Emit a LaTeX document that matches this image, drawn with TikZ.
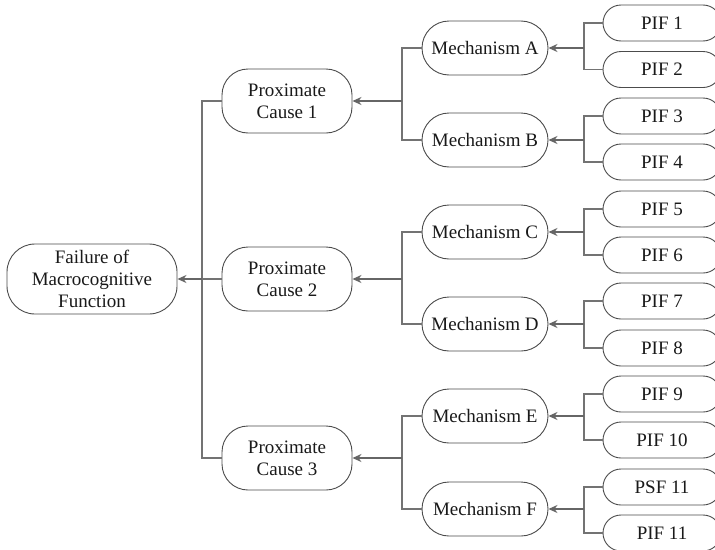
\documentclass[tikz,border=0pt]{standalone}
\usepackage{fontspec}
\setmainfont{Liberation Serif}
\usetikzlibrary{shapes.misc,arrows.meta}
\begin{document}
\begin{tikzpicture}[x=1pt,y=-1pt,
  every node/.style={font=\fontsize{19}{21.7}\selectfont, text=black!90, align=center, inner sep=0pt},
  pif/.style={draw=black!70, line width=0.9pt, rounded rectangle, minimum width=118pt, minimum height=36pt},
  mech/.style={draw=black!70, line width=0.9pt, rounded rectangle, minimum width=126pt, minimum height=54pt},
  cause/.style={draw=black!70, line width=0.9pt, rectangle, rounded corners=26pt, minimum width=130pt, minimum height=64pt},
  top/.style={draw=black!70, line width=0.9pt, rectangle, rounded corners=28pt, minimum width=170pt, minimum height=70pt},
  conn/.style={draw=black!55, line width=1.1pt},
  arr/.style={draw=black!60, line width=1.3pt, -{Stealth[length=9pt,width=8pt,fill=black!65]}}
]
\clip (0,0) rectangle (715,549);
\fill[white] (0,0) rectangle (715,549);

% PIF nodes
\node[pif] (p1) at (662,23) {PIF 1};
\node[pif] (p2) at (662,69.5) {PIF 2};
\node[pif] (p3) at (662,116) {PIF 3};
\node[pif] (p4) at (662,162) {PIF 4};
\node[pif] (p5) at (662,209) {PIF 5};
\node[pif] (p6) at (662,255) {PIF 6};
\node[pif] (p7) at (662,301) {PIF 7};
\node[pif] (p8) at (662,348) {PIF 8};
\node[pif] (p9) at (662,394) {PIF 9};
\node[pif] (p10) at (662,440) {PIF 10};
\node[pif] (p11) at (662,487) {PSF 11};
\node[pif] (p12) at (662,533) {PIF 11};

% Mechanisms
\node[mech] (mA) at (485,48) {Mechanism A};
\node[mech] (mB) at (485,140) {Mechanism B};
\node[mech] (mC) at (485,232) {Mechanism C};
\node[mech] (mD) at (485,324) {Mechanism D};
\node[mech] (mE) at (485,416) {Mechanism E};
\node[mech] (mF) at (485,509) {Mechanism F};

% Causes
\node[cause] (c1) at (287,101) {Proximate\\Cause 1};
\node[cause] (c2) at (287,279) {Proximate\\Cause 2};
\node[cause] (c3) at (287,458) {Proximate\\Cause 3};

% Top
\node[top] (f) at (92,279) {Failure of\\Macrocognitive\\Function};

% junctions
\coordinate (jA) at (584,48);
\coordinate (jB) at (584,140);
\coordinate (jC) at (584,232);
\coordinate (jD) at (584,324);
\coordinate (jE) at (584,416);
\coordinate (jF) at (584,509);
\coordinate (k1) at (402,101);
\coordinate (k2) at (402,279);
\coordinate (k3) at (402,458);
\coordinate (t0) at (202,279);

\draw[conn] (p1.west) -| (jA) |- (p2.west);
\draw[conn] (p3.west) -| (jB) |- (p4.west);
\draw[conn] (p5.west) -| (jC) |- (p6.west);
\draw[conn] (p7.west) -| (jD) |- (p8.west);
\draw[conn] (p9.west) -| (jE) |- (p10.west);
\draw[conn] (p11.west) -| (jF) |- (p12.west);
\draw[arr] (jA) -- (mA.east);
\draw[arr] (jB) -- (mB.east);
\draw[arr] (jC) -- (mC.east);
\draw[arr] (jD) -- (mD.east);
\draw[arr] (jE) -- (mE.east);
\draw[arr] (jF) -- (mF.east);

\draw[conn] (mA.west) -| (k1) |- (mB.west);
\draw[conn] (mC.west) -| (k2) |- (mD.west);
\draw[conn] (mE.west) -| (k3) |- (mF.west);
\draw[arr] (k1) -- (c1.east);
\draw[arr] (k2) -- (c2.east);
\draw[arr] (k3) -- (c3.east);

\draw[conn] (c1.west) -| (t0) |- (c3.west);
\draw[conn] (c2.west) -- (t0);
\draw[arr] (t0) -- (f.east);
\end{tikzpicture}
\end{document}
